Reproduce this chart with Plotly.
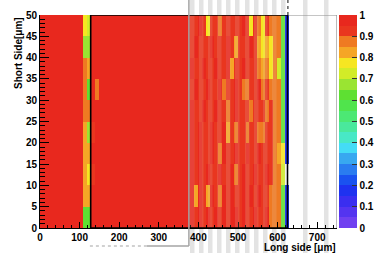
import plotly.graph_objects as go

# ---- data -------------------------------------------------------------
# bin centres (10 um wide bins along the long side, 5 um bins along the short side)
long_side_um = [5 + 10 * i for i in range(63)]
short_side_um = [2.5, 7.5, 12.5, 17.5, 22.5, 27.5, 32.5, 37.5, 42.5, 47.5]

row_00_05 = [0.97,0.96,0.97,0.97,0.98,0.97,0.96,0.97,0.97,0.97,0.96,
             0.62,0.62,
             0.95,0.97,0.96,0.97,0.97,0.96,0.97,0.98,0.97,0.96,0.97,0.97,0.96,0.97,0.97,0.96,0.97,0.97,0.96,0.97,0.97,0.96,0.97,0.97,0.96,
             0.96,0.93,0.97,0.94,0.96,0.93,0.97,0.94,0.96,0.93,0.96,0.95,0.93,0.96,0.94,0.93,0.96,0.94,0.93,0.95,0.88,0.86,
             0.86,0.60,0.15]
row_05_10 = [0.97,0.97,0.96,0.97,0.97,0.97,0.96,0.97,0.97,0.96,0.97,
             0.82,0.83,
             0.96,0.97,0.97,0.96,0.97,0.97,0.96,0.97,0.97,0.97,0.96,0.97,0.96,0.97,0.97,0.96,0.97,0.97,0.96,0.97,0.97,0.96,0.97,0.96,0.97,
             0.95,0.83,0.96,0.93,0.82,0.96,0.93,0.86,0.95,0.93,0.96,0.94,0.93,0.96,0.93,0.95,0.93,0.96,0.94,0.92,0.86,0.86,
             0.86,0.62,0.15]
row_10_15 = [0.97,0.96,0.97,0.97,0.96,0.97,0.97,0.97,0.96,0.97,0.97,
             0.82,0.76,
             0.90,0.96,0.97,0.97,0.96,0.97,0.97,0.96,0.97,0.97,0.96,0.97,0.97,0.96,0.97,0.97,0.96,0.97,0.97,0.96,0.97,0.97,0.96,0.97,0.97,
             0.96,0.94,0.96,0.93,0.96,0.94,0.93,0.96,0.94,0.93,0.96,0.88,0.93,0.96,0.94,0.93,0.96,0.93,0.94,0.96,0.92,0.86,
             0.86,0.70,None]
row_15_20 = [0.96,0.97,0.97,0.97,0.97,0.96,0.97,0.97,0.97,0.96,0.97,
             0.82,0.83,
             0.97,0.96,0.97,0.97,0.96,0.97,0.97,0.96,0.97,0.97,0.96,0.97,0.97,0.96,0.97,0.97,0.96,0.97,0.97,0.96,0.97,0.97,0.96,0.97,0.96,
             0.96,0.93,0.96,0.94,0.93,0.96,0.94,0.85,0.96,0.93,0.94,0.96,0.93,0.94,0.96,0.93,0.94,0.96,0.93,0.92,0.94,0.86,
             0.84,0.78,0.15]
row_20_25 = [0.97,0.97,0.96,0.97,0.97,0.97,0.96,0.97,0.97,0.97,0.96,
             0.83,0.65,
             0.90,0.97,0.96,0.97,0.97,0.96,0.97,0.97,0.96,0.97,0.97,0.96,0.97,0.97,0.96,0.97,0.97,0.96,0.97,0.97,0.96,0.97,0.97,0.96,0.97,
             0.95,0.93,0.96,0.94,0.93,0.96,0.93,0.94,0.96,0.84,0.93,0.87,0.94,0.93,0.86,0.94,0.93,0.87,0.87,0.93,0.94,0.85,
             0.85,0.62,0.15]
row_25_30 = [0.97,0.96,0.97,0.97,0.97,0.96,0.97,0.97,0.96,0.97,0.97,
             0.87,0.85,
             0.96,0.97,0.97,0.96,0.97,0.97,0.96,0.97,0.97,0.96,0.97,0.97,0.96,0.97,0.97,0.96,0.97,0.97,0.96,0.97,0.97,0.96,0.97,0.97,0.96,
             0.96,0.93,0.94,0.96,0.93,0.94,0.96,0.93,0.94,0.85,0.93,0.96,0.94,0.93,0.94,0.88,0.93,0.94,0.90,0.86,0.93,0.85,
             0.86,0.62,0.15]
row_30_35 = [0.97,0.97,0.97,0.96,0.97,0.97,0.97,0.96,0.97,0.97,0.97,
             0.86,0.62,
             0.96,0.87,0.97,0.97,0.96,0.97,0.97,0.96,0.97,0.97,0.96,0.97,0.97,0.96,0.97,0.97,0.96,0.97,0.97,0.96,0.97,0.97,0.96,0.97,0.97,
             0.94,0.96,0.93,0.94,0.96,0.93,0.94,0.96,0.85,0.94,0.93,0.96,0.93,0.85,0.88,0.94,0.93,0.96,0.85,0.93,0.85,0.86,
             0.86,0.62,0.15]
row_35_40 = [0.96,0.97,0.97,0.97,0.96,0.97,0.97,0.97,0.96,0.97,0.97,
             0.85,0.80,
             0.97,0.96,0.97,0.97,0.96,0.97,0.97,0.96,0.97,0.97,0.96,0.97,0.97,0.96,0.97,0.97,0.96,0.97,0.97,0.96,0.97,0.97,0.96,0.97,0.96,
             0.96,0.94,0.90,0.96,0.93,0.94,0.96,0.93,0.94,0.96,0.84,0.93,0.94,0.96,0.93,0.94,0.93,0.86,0.83,0.85,0.79,0.86,
             0.70,0.62,0.15]
row_40_45 = [0.97,0.96,0.97,0.97,0.97,0.96,0.97,0.97,0.97,0.96,0.97,
             0.66,0.65,
             0.97,0.96,0.97,0.97,0.96,0.97,0.97,0.96,0.97,0.97,0.96,0.97,0.97,0.97,0.96,0.97,0.97,0.96,0.97,0.97,0.96,0.97,0.97,0.96,0.97,
             0.93,0.95,0.93,0.94,0.93,0.96,0.94,0.93,0.94,0.96,0.93,0.80,0.93,0.94,0.93,0.96,0.93,0.80,0.78,0.82,0.77,0.86,
             0.86,0.60,0.15]
row_45_50 = [0.97,0.97,0.96,0.97,0.98,0.97,0.97,0.96,0.97,0.97,0.96,
             0.77,0.72,
             0.96,0.97,0.96,0.97,0.97,0.96,0.97,0.97,0.96,0.97,0.96,0.97,0.97,0.96,0.97,0.97,0.96,0.97,0.97,0.96,0.97,0.96,0.97,0.97,0.96,
             0.94,0.93,0.95,0.93,0.77,0.93,0.94,0.86,0.93,0.94,0.92,0.94,0.93,0.95,0.93,0.77,0.93,0.86,0.78,0.92,0.86,0.86,
             0.86,0.60,0.15]

efficiency = [row_00_05, row_05_10, row_10_15, row_15_20, row_20_25,
              row_25_30, row_30_35, row_35_40, row_40_45, row_45_50]

colorbar_ticks = [0, 0.1, 0.2, 0.3, 0.4, 0.5, 0.6, 0.7, 0.8, 0.9, 1]
colorbar_text = ["0", "0.1", "0.2", "0.3", "0.4", "0.5", "0.6", "0.7", "0.8", "0.9", "1"]

# ROOT-like 20-band palette (low -> high)
band_colors = ["#7040f0", "#5434f0", "#3a2ef0", "#1e32f0", "#1a52f0",
               "#2a7cf0", "#38a8f0", "#44dcf6", "#48e8c6", "#4ae89c",
               "#4ce874", "#50e44c", "#5ee032", "#9ae432", "#d2ec28",
               "#f6e622", "#f5a626", "#ef7a22", "#e9361f", "#e8281e"]

# ---- figure ------------------------------------------------------------
W, H = 374, 253
ML, MR, MT, MB = 40, 37, 15, 25
PW, PH = W - ML - MR, H - MT - MB

def px_x(p):
    return (p - ML) / PW

def px_y(p):
    return (H - MB - p) / PH

colorscale = []
n = len(band_colors)
for i, c in enumerate(band_colors):
    colorscale.append([i / n, c])
    colorscale.append([(i + 1) / n, c])

font_b = dict(family="Liberation Sans, Arial, sans-serif", size=10, color="black", weight="bold")

fig = go.Figure(go.Heatmap(
    x=long_side_um, y=short_side_um, z=efficiency,
    zmin=0, zmax=1, colorscale=colorscale, hoverongaps=False,
    colorbar=dict(
        x=px_x(339), xanchor="left", xpad=0, ypad=0,
        y=0.5, yanchor="middle", len=1, lenmode="fraction",
        thickness=18, outlinewidth=0,
        ticks="inside", ticklen=5, tickcolor="#333", tickwidth=1,
        tickvals=colorbar_ticks, ticktext=colorbar_text, tickfont=font_b,
    ),
))

shapes = []
# overlay stripes (light grey vertical bands of a pasted image)
stripe_px = [190, 199, 208, 217, 226, 235, 245, 254, 263, 272, 281, 303, 324]
for sx in stripe_px:
    shapes.append(dict(type="rect", xref="paper", yref="paper",
                       x0=px_x(sx), x1=px_x(sx + 4.5), y0=px_y(H), y1=px_y(0),
                       fillcolor="#e3e3e3", line=dict(width=0), layer="below"))
    if sx + 4.5 < 289.5:
        shapes.append(dict(type="rect", xref="paper", yref="paper",
                           x0=px_x(sx), x1=px_x(sx + 4.5), y0=0, y1=1,
                           fillcolor="rgba(225,225,225,0.14)", line=dict(width=0), layer="above"))

# grey frame (top / right)
shapes.append(dict(type="line", xref="x", yref="y", x0=625, x1=750, y0=50, y1=50,
                   line=dict(color="#8c8c8c", width=1.2), layer="above"))
shapes.append(dict(type="line", xref="x", yref="y", x0=750, x1=750, y0=0, y1=50,
                   line=dict(color="#8c8c8c", width=1.2), layer="above"))
# black box
shapes.append(dict(type="rect", xref="x", yref="y", x0=128, x1=625, y0=0, y1=50,
                   line=dict(color="black", width=1.6), layer="above"))
shapes.append(dict(type="line", xref="x", yref="paper", x0=626, x1=626, y0=1, y1=px_y(0),
                   line=dict(color="#333", width=1.2, dash="dot"), layer="above"))
# grey box edge
shapes.append(dict(type="line", xref="x", yref="paper", x0=376, x1=376, y0=px_y(246), y1=px_y(0),
                   line=dict(color="#a4a4a4", width=1.5), layer="above"))
shapes.append(dict(type="line", xref="x", yref="paper", x0=270, x1=376, y0=px_y(246), y1=px_y(246),
                   line=dict(color="#a4a4a4", width=1.5), layer="above"))
shapes.append(dict(type="line", xref="x", yref="paper", x0=126, x1=270, y0=px_y(246), y1=px_y(246),
                   line=dict(color="#a4a4a4", width=1.2, dash="dot"), layer="above"))

annotations = [
    dict(text="Short Side[μm]", xref="paper", yref="paper", x=px_x(18), y=1.0,
         xanchor="center", yanchor="top", textangle=-90, showarrow=False, font=font_b),
    dict(text="Long side [μm]", xref="paper", yref="paper", x=1.0, y=px_y(247),
         xanchor="right", yanchor="middle", showarrow=False, font=font_b, borderpad=0),
]

fig.update_layout(
    width=W, height=H, margin=dict(l=ML, r=MR, t=MT, b=MB, autoexpand=False),
    paper_bgcolor="white", plot_bgcolor="white",
    font=font_b, shapes=shapes, annotations=annotations,
    xaxis=dict(range=[0, 750], showline=True, linecolor="black", linewidth=1,
               ticks="inside", ticklen=6, tickcolor="black", tick0=0, dtick=100,
               minor=dict(ticks="inside", ticklen=3, tickcolor="black", dtick=20),
               showgrid=False, zeroline=False, tickfont=font_b, automargin=False),
    yaxis=dict(range=[0, 50], showline=True, linecolor="black", linewidth=1,
               ticks="inside", ticklen=9, tickcolor="black", tick0=0, dtick=5,
               minor=dict(ticks="inside", ticklen=4.5, tickcolor="black", dtick=1),
               showgrid=False, zeroline=False, tickfont=font_b, automargin=False),
)

fig.write_html("out.html", config={"displayModeBar": False},
               post_script="document.body.style.margin='0';document.body.style.overflow='hidden';")
